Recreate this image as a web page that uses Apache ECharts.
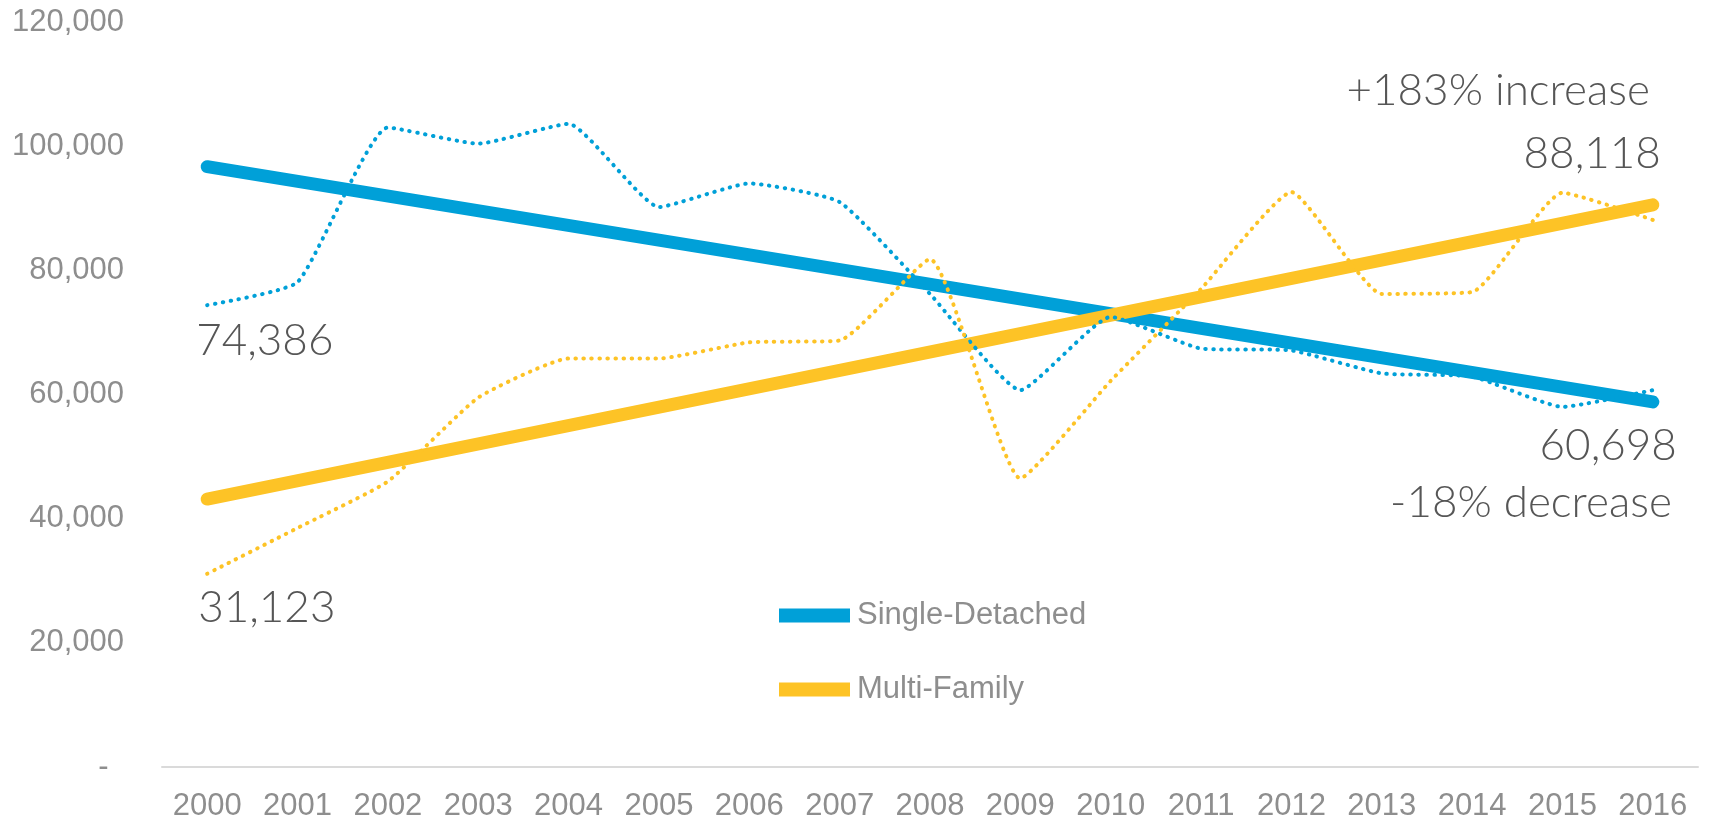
<!DOCTYPE html>
<html>
<head>
<meta charset="utf-8">
<script src="https://cdn.jsdelivr.net/npm/echarts@6/dist/echarts.min.js"></script>
<style>
  html, body { margin: 0; padding: 0; background: #fff; }
  #chart { width: 1711px; height: 822px; }
</style>
</head>
<body>
<div id="chart"></div>
<script>
// housing starts by type
const years = ["2000", "2001", "2002", "2003", "2004", "2005", "2006", "2007", "2008",
  "2009", "2010", "2011", "2012", "2013", "2014", "2015", "2016"];
const singleDetached = [74386, 78100, 103000, 100400, 103600, 90200, 94000, 91000, 76200,
  60700, 72500, 67400, 67100, 63400, 62900, 58000, 60698];
const multiFamily = [31123, 38500, 46000, 59500, 65800, 65800, 68400, 68700, 81800,
  46500, 62200, 77000, 92600, 76200, 76500, 92500, 88118];
// linear trend lines, start (2000) and end (2016) values
const singleTrend = [96700, 58800];
const multiTrend = [43150, 90550];
const yTicks = [0, 20000, 40000, 60000, 80000, 100000, 120000];

const BLUE = "#00A0D8";
const YELLOW = "#FDC326";
const TEXT = "#565656";
const AXIS_TEXT = "#8E8E8E";
const NOTE_FONT = "Lato";

const trendData = (ends) => {
  const arr = years.map(() => null);
  arr[0] = ends[0];
  arr[arr.length - 1] = ends[1];
  return arr;
};

const noteStyle = {
  fontFamily: NOTE_FONT,
  fontWeight: 300,
  fontSize: 44,
  color: TEXT,
};

const dottedData = (values, firstLabel, lastLabel) => {
  return values.map((v, i) => {
    if (i === 0) return { value: v, label: firstLabel };
    if (i === values.length - 1) return { value: v, label: lastLabel };
    return v;
  });
};

const fmt = (v) => v.toLocaleString("en-US");

const singleData = dottedData(
  singleDetached,
  {
    show: true,
    ...noteStyle,
    position: [-11, 36],
    align: "left",
    verticalAlign: "middle",
    formatter: () => fmt(singleDetached[0]),
  },
  {
    show: true,
    position: [24, 27],
    align: "right",
    verticalAlign: "top",
    formatter: () => "{a|" + fmt(singleDetached[16]) + "}\n{b|-18% decrease}",
    rich: {
      a: { ...noteStyle, lineHeight: 57, align: "right" },
      b: { ...noteStyle, lineHeight: 57, align: "right", padding: [0, 5, 0, 0] },
    },
  }
);

const multiData = dottedData(
  multiFamily,
  {
    show: true,
    ...noteStyle,
    position: [-9, 34],
    align: "left",
    verticalAlign: "middle",
    formatter: () => fmt(multiFamily[0]),
  },
  {
    show: true,
    position: [8, -35],
    align: "right",
    verticalAlign: "bottom",
    formatter: () => "{b|+183% increase}\n{a|" + fmt(multiFamily[16]) + "}",
    rich: {
      a: { ...noteStyle, lineHeight: 63, align: "right" },
      b: { ...noteStyle, lineHeight: 63, align: "right", padding: [0, 11, 0, 0] },
    },
  }
);

const dotted = (color) => ({
  color: color,
  width: 4,
  type: [0.5, 7.5],
  cap: "round",
});

var chartDom = document.getElementById("chart");
var myChart = echarts.init(chartDom);
var option;

option = {
  animation: false,
  backgroundColor: "#fff",
  grid: {
    left: 162,
    right: 13,
    top: 22,
    bottom: 52,
  },
  legend: {
    orient: "vertical",
    left: 774,
    top: 595,
    itemWidth: 71,
    itemHeight: 14,
    itemGap: 43,
    icon: "rect",
    data: ["Single-Detached", "Multi-Family"],
    textStyle: {
      fontFamily: "Liberation Sans",
      fontSize: 31,
      color: AXIS_TEXT,
      padding: [0, 0, 0, 2],
    },
  },
  xAxis: {
    type: "category",
    data: years,
    boundaryGap: true,
    axisTick: { show: false },
    axisLine: { lineStyle: { color: "#DADADA", width: 2 } },
    axisLabel: {
      interval: 0,
      margin: 24,
      fontFamily: "Liberation Sans",
      fontSize: 31,
      color: AXIS_TEXT,
    },
  },
  yAxis: {
    type: "value",
    min: yTicks[0],
    max: yTicks[yTicks.length - 1],
    interval: yTicks[1] - yTicks[0],
    splitLine: { show: false },
    axisLine: { show: false },
    axisTick: { show: false },
    axisLabel: {
      margin: 38,
      fontFamily: "Liberation Sans",
      fontSize: 31,
      color: AXIS_TEXT,
      // accounting style: zero shown as a dash, set in from the right
      formatter: (v) => (v === 0 ? "-\u2002" : fmt(v)),
    },
  },
  series: [
    {
      name: "Single-Detached",
      type: "line",
      data: trendData(singleTrend),
      connectNulls: true,
      showSymbol: false,
      symbol: "none",
      itemStyle: { color: BLUE },
      lineStyle: { color: BLUE, width: 13, cap: "round" },
      z: 2,
    },
    {
      name: "Multi-Family",
      type: "line",
      data: trendData(multiTrend),
      connectNulls: true,
      showSymbol: false,
      symbol: "none",
      itemStyle: { color: YELLOW },
      lineStyle: { color: YELLOW, width: 13, cap: "round" },
      z: 3,
    },
    {
      name: "Single-Detached (annual)",
      type: "line",
      data: singleData,
      smooth: 0.15,
      symbol: "circle",
      symbolSize: 0,
      showSymbol: true,
      itemStyle: { color: BLUE },
      lineStyle: dotted(BLUE),
      z: 4,
    },
    {
      name: "Multi-Family (annual)",
      type: "line",
      data: multiData,
      smooth: 0.15,
      symbol: "circle",
      symbolSize: 0,
      showSymbol: true,
      itemStyle: { color: YELLOW },
      lineStyle: dotted(YELLOW),
      z: 5,
    },
  ],
};

option && myChart.setOption(option);
</script>
</body>
</html>
